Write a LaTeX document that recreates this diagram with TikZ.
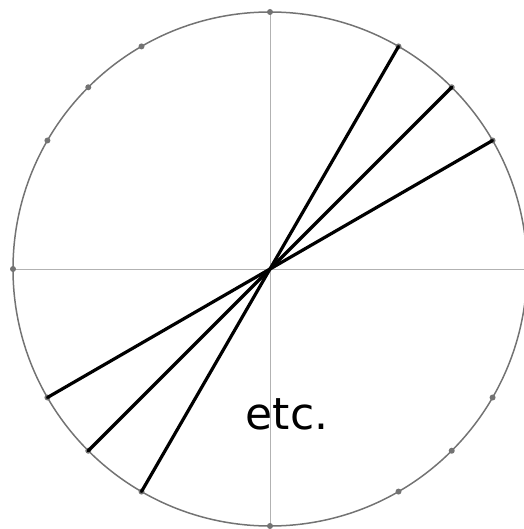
\documentclass[tikz,border=0pt]{standalone}
\usepackage{fontspec}
\setmainfont{DejaVu Sans}
\usetikzlibrary{calc}
\begin{document}
\begin{tikzpicture}[x=1pt,y=1pt,
  rim/.style={draw=black!55!white, line width=1.5pt},
  axis/.style={draw=black!30, line width=0.9pt},
  chord/.style={draw=black, line width=3.2pt, line cap=round},
  tick/.style={fill=black!55!white, draw=none}]
\useasboundingbox (0,-529) rectangle (523,0);
\coordinate (O) at (270,-269);
\draw[rim] (O) circle (257);
\foreach \a in {0,30,45,60,90,120,135,150,180,210,225,240,270,300,315,330}{
  \coordinate (p\a) at ($(O)+(\a:257)$);
}
\draw[axis] (p180) -- (p0);
\draw[axis] (p90) -- (p270);
\foreach \a in {30,45,60,90,120,135,150,180,210,225,240,270,300,315,330}{
  \fill[tick] (p\a) circle (3);
}
\draw[chord] (p30) -- (p210);
\draw[chord] (p45) -- (p225);
\draw[chord] (p60) -- (p240);
\node[font=\fontsize{44}{44}\selectfont] (etc) at (287,-414) {etc.};
\end{tikzpicture}
\end{document}
